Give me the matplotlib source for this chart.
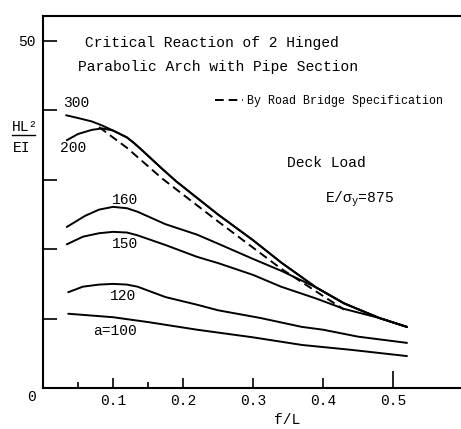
import matplotlib.pyplot as plt
from matplotlib.lines import Line2D

# f/L abscissa and HL^2/EI ordinate for each slenderness a
x_300 = [0.033, 0.05, 0.07, 0.085, 0.10, 0.11, 0.12, 0.13, 0.14, 0.17, 0.19, 0.22, 0.25, 0.30, 0.34, 0.39, 0.43, 0.48, 0.52]
y_300 = [39.3, 38.9, 38.4, 37.8, 37.1, 36.6, 36.1, 35.3, 34.4, 31.6, 29.8, 27.4, 25.0, 21.3, 18.1, 14.5, 12.2, 10.1, 8.8]

x_200 = [0.034, 0.05, 0.07, 0.085, 0.10, 0.11, 0.12, 0.13, 0.14, 0.17, 0.19, 0.22, 0.25, 0.30, 0.34, 0.39, 0.43, 0.48, 0.52]
y_200 = [35.7, 36.6, 37.2, 37.4, 37.1, 36.6, 36.1, 35.3, 34.4, 31.6, 29.8, 27.4, 25.0, 21.3, 18.1, 14.5, 12.2, 10.1, 8.8]

x_160 = [0.034, 0.06, 0.08, 0.10, 0.12, 0.135, 0.175, 0.22, 0.25, 0.30, 0.34, 0.39, 0.43, 0.48, 0.52]
y_160 = [23.2, 24.8, 25.7, 26.1, 25.9, 25.4, 23.6, 22.1, 20.8, 18.6, 16.9, 14.5, 12.2, 10.1, 8.8]

x_150 = [0.034, 0.057, 0.08, 0.10, 0.12, 0.135, 0.175, 0.22, 0.25, 0.30, 0.34, 0.39, 0.43, 0.48, 0.52]
y_150 = [20.7, 21.8, 22.3, 22.5, 22.4, 22.0, 20.6, 18.9, 18.0, 16.3, 14.6, 12.9, 11.4, 10.1, 8.8]

x_120 = [0.036, 0.057, 0.08, 0.10, 0.12, 0.135, 0.175, 0.22, 0.25, 0.31, 0.37, 0.40, 0.45, 0.52]
y_120 = [13.8, 14.6, 14.9, 15.0, 14.9, 14.6, 13.1, 12.0, 11.2, 10.1, 8.8, 8.4, 7.4, 6.5]

x_100 = [0.036, 0.10, 0.15, 0.22, 0.30, 0.37, 0.44, 0.52]
y_100 = [10.7, 10.2, 9.5, 8.4, 7.3, 6.2, 5.5, 4.6]

# road bridge specification
x_spec = [0.08, 0.12, 0.17, 0.21, 0.25, 0.34, 0.43]
y_spec = [37.6, 34.6, 30.2, 27.1, 24.0, 17.2, 11.3]

x_ticks = [0.1, 0.2, 0.3, 0.4, 0.5]
x_tick_labels = ["0.1", "0.2", "0.3", "0.4", "0.5"]
y_ticks = [10, 20, 30, 40, 50]
y_tick_labels = ["", "", "", "", "50"]

plt.rcParams['font.family'] = ['Liberation Mono', 'DejaVu Sans Mono']
plt.rcParams['mathtext.fontset'] = 'custom'
plt.rcParams['mathtext.rm'] = 'Liberation Mono'
plt.rcParams['mathtext.it'] = 'Liberation Mono'
plt.rcParams['font.size'] = 10.5

fig = plt.figure(figsize=(4.61, 4.29), dpi=100)
ax = fig.add_axes([43 / 461, 41 / 429, 416.5 / 461, 372 / 429])

lw = 1.4
for xs, ys in [(x_300, y_300), (x_200, y_200), (x_160, y_160),
               (x_150, y_150), (x_120, y_120), (x_100, y_100)]:
    ax.plot(xs, ys, color='black', lw=lw, solid_capstyle='round')

ax.plot(x_spec, y_spec, color='black', lw=lw, dashes=(4.5, 2.5),
        label="By Road Bridge Specification")

ax.set_xlim(0, 0.595)
ax.set_ylim(0, 53.6)

ax.spines['right'].set_visible(False)
for side in ['left', 'bottom', 'top']:
    ax.spines[side].set_linewidth(1.5)

ax.set_xticks(x_ticks, labels=x_tick_labels)
ax.set_xticks([0.05, 0.15], minor=True)
ax.tick_params(axis='x', which='major', direction='in', length=7, width=1.2, pad=4)
ax.tick_params(axis='x', which='minor', direction='in', length=4.5, width=1.2)
ax.xaxis.get_major_ticks()[4].tick1line.set_markersize(12)
ax.set_yticks(y_ticks, labels=y_tick_labels)
ax.tick_params(axis='y', direction='in', length=10, width=1.2, pad=5)

ax.text(-11 / 416.5, -9 / 372, "0", transform=ax.transAxes, ha='center', va='center')
ax.text(244 / 416.5, -32 / 372, "f/L", transform=ax.transAxes, ha='center', va='center')

# title block
ax.text(0.06, 49.7, "Critical Reaction of 2 Hinged", ha='left', va='center')
ax.text(0.05, 46.3, "Parabolic Arch with Pipe Section", ha='left', va='center')

ax.legend(loc='center left', bbox_to_anchor=(0.413, 0.7715), frameon=False,
          fontsize=8.4, handlelength=2.4, handletextpad=0.35,
          borderpad=0, borderaxespad=0)

ax.text(0.349, 32.4, "Deck Load", ha='left', va='center')
ax.text(0.403, 26.7, r"E/$\sigma_{\mathrm{y}}$=875", ha='left', va='baseline')

# curve labels
for txt, x, y in [("300", 0.0286, 41.1), ("200", 0.024, 34.6), ("160", 0.0986, 27.1),
                  ("150", 0.0986, 20.7), ("120", 0.0957, 13.3), ("a=100", 0.0714, 8.2)]:
    ax.text(x, y, txt, ha='left', va='center')

# ordinate label drawn as a stacked fraction
fig.text(12 / 461, 1 - 127 / 429, "HL²", ha='left', va='center')
fig.text(22 / 461, 1 - 148 / 429, "EI", ha='center', va='center')
fig.add_artist(Line2D([12 / 461, 35 / 461], [1 - 135 / 429] * 2,
                      transform=fig.transFigure, color='black', lw=1))

fig.savefig("out.png", dpi=100)
